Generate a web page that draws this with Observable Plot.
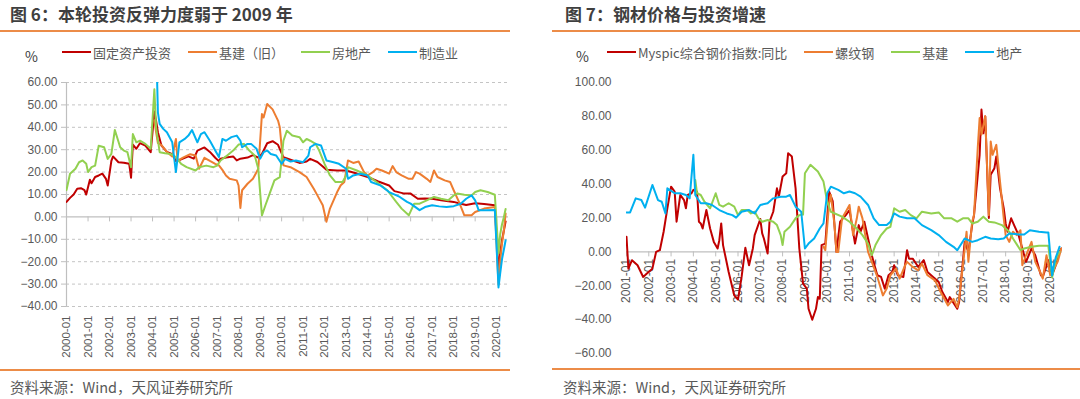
<!DOCTYPE html>
<html><head><meta charset="utf-8">
<script src="https://cdn.jsdelivr.net/npm/d3@7"></script>
<script src="https://cdn.jsdelivr.net/npm/@observablehq/plot@0.6"></script>
<style>
body{margin:0;background:#fff;width:1080px;height:399px;position:relative;overflow:hidden;font-family:"Noto Sans CJK SC","Noto Sans",sans-serif;}
.abs{position:absolute;}
.title{font-weight:bold;font-size:17px;color:#3f3f3f;top:3px;line-height:22px;white-space:nowrap}
.rule{height:1.5px;background:#ec8c48}
.legend{display:flex;align-items:center;gap:17px;font-size:13px;color:#595959;top:43px;height:18px;white-space:nowrap}
.item{display:flex;align-items:center;gap:2px}
.sw{width:29px;height:2px}
.pct{font-size:14px;color:#404040;top:47px;line-height:18px}
.cap{font-size:14.5px;color:#595959;top:377px;line-height:20px;white-space:nowrap}
</style></head><body>
<div class="abs title" style="left:10px">图 6：本轮投资反弹力度弱于 2009 年</div>
<div class="abs title" style="left:565px">图 7：钢材价格与投资增速</div>
<div class="abs rule" style="left:0;top:30px;width:510px"></div>
<div class="abs rule" style="left:552px;top:30px;width:528px"></div>
<div class="abs pct" style="left:25px">%</div>
<div class="abs pct" style="left:576px">%</div>
<div class="abs legend" id="legL" style="left:62px"></div>
<div class="abs legend" id="legR" style="left:607px"></div>
<div class="abs" id="chartL" style="left:0;top:70px"></div>
<div class="abs" id="chartR" style="left:540px;top:70px"></div>
<div class="abs rule" style="left:0;top:369px;width:510px"></div>
<div class="abs rule" style="left:552px;top:368px;width:528px"></div>
<div class="abs cap" style="left:10px">资料来源：Wind，天风证券研究所</div>
<div class="abs cap" style="left:563px">资料来源：Wind，天风证券研究所</div>
<script>
// ---------- Chart 6 data ----------
const leftSeriesNames = ["固定资产投资", "基建（旧）", "房地产", "制造业"];
const leftColors = ["#c00000", "#ed7d31", "#92d050", "#00b0f0"];
const leftYTicks = [-40, -30, -20, -10, 0, 10, 20, 30, 40, 50, 60];
const leftXTicks = ["2000-01","2001-01","2002-01","2003-01","2004-01","2005-01","2006-01","2007-01","2008-01","2009-01","2010-01","2011-01","2012-01","2013-01","2014-01","2015-01","2016-01","2017-01","2018-01","2019-01","2020-01"];

const fai = [["2000-01",6.7],["2000-03",8.5],["2000-05",10],["2000-07",12.6],["2000-09",12.8],["2000-11",11.9],["2000-12",10],
["2001-02",16.6],["2001-03",15],["2001-05",17.8],["2001-07",18.5],["2001-09",19.3],["2001-11",17],["2001-12",14],
["2002-02",25],["2002-03",27],["2002-06",24.4],["2002-09",24.2],["2002-12",23.7],["2003-01",17.5],["2003-02",32.3],["2003-04",30.4],["2003-06",32.9],["2003-09",31.8],["2003-12",28.9],
["2004-02",47],["2004-03",43],["2004-04",37.8],["2004-06",31.8],["2004-09",29],["2004-12",28],["2005-02",25],["2005-04",25.4],["2005-06",26],["2005-09",27],["2005-12",26],
["2006-02",29.6],["2006-06",31],["2006-09",29],["2006-12",26.4],["2007-02",24.9],["2007-03",26],["2007-06",26.5],["2007-10",27],["2007-12",25.2],
["2008-02",26],["2008-06",26.5],["2008-09",27.6],["2008-12",26.5],["2009-02",28.1],["2009-05",32.9],["2009-08",33.8],["2009-11",32.2],
["2010-02",26.6],["2010-06",25.5],["2010-11",24.1],["2011-03",24.7],["2011-05",25.9],["2011-09",24.5],["2011-12",22.5],["2012-02",21],["2012-08",20.7],
["2013-01",20.7],["2013-06",19.6],["2014-01",17.8],["2014-07",15.8],["2015-01",14],["2015-04",11.5],["2015-09",10.5],["2016-01",10.4],["2016-05",8.1],["2016-09",8.2],
["2017-01",8.1],["2017-06",7.4],["2018-01",6.7],["2018-05",5.9],["2018-08",5.3],["2019-01",6.1],["2019-06",5.8],["2019-12",5.2],
["2020-02",-24.5],["2020-03",-16.1],["2020-04",-10.3],["2020-05",-6.3],["2020-06",-2]];

const infraOld = [["2004-02",43],["2004-03",38],["2004-04",33],["2004-06",32],["2004-09",29],["2004-12",27],["2005-02",34.8],["2005-03",25],["2005-06",26.5],["2005-10",28],
["2006-01",27.4],["2006-03",21.5],["2006-06",26.4],["2006-09",25],["2006-12",23.7],["2007-02",23],["2007-04",21],["2007-06",18.5],["2007-08",17],["2007-12",16.3],
["2008-01",14],["2008-02",4],["2008-03",11.9],["2008-06",14.8],["2008-09",17],["2008-12",21.5],["2009-02",45.9],["2009-03",44.4],["2009-05",50.4],["2009-08",48],["2009-11",43],["2009-12",40],
["2010-02",23],["2010-06",22.2],["2010-11",20],["2011-03",17.8],["2011-07",12.6],["2011-09",9.6],["2011-12",5.2],["2012-02",-2.2],["2012-04",3.7],["2012-08",11.1],["2012-10",14.1],["2012-12",15.6],
["2013-02",25.2],["2013-05",24.1],["2013-08",24.7],["2013-11",20],["2014-01",18.5],["2014-04",20],["2014-06",21.5],["2014-09",20.7],["2015-01",19.3],["2015-03",22.7],["2015-05",20],["2015-08",18.5],["2015-12",17],
["2016-02",17],["2016-04",20],["2016-06",19.3],["2016-10",17],["2016-12",15.6],["2017-02",20.7],["2017-04",17.8],["2017-08",16.3],["2017-11",15.6],
["2018-01",11.9],["2018-04",6.7],["2018-07",0.7],["2018-11",0.7],["2019-01",2.2],["2019-06",3.7],["2019-12",4.4],
["2020-02",-30.3],["2020-03",-19.7],["2020-04",-11.8],["2020-05",-6.3],["2020-06",1.5]];

const realEstate = [["2000-01",12],["2000-03",19.3],["2000-06",21.5],["2000-08",24.4],["2000-10",25.2],["2000-12",23.7],["2001-01",20],["2001-03",22.2],["2001-05",22.9],["2001-07",31.8],["2001-10",31.1],["2001-12",25.9],
["2002-02",28.1],["2002-04",38.8],["2002-07",31.1],["2002-09",29.6],["2002-11",28.9],["2003-01",22.2],["2003-02",37],["2003-04",33.3],["2003-06",34],["2003-09",32.6],["2003-12",30.4],
["2004-02",57],["2004-03",40],["2004-05",28.9],["2004-08",28.4],["2004-11",28.1],["2005-02",26.7],["2005-05",23.7],["2005-08",22.2],["2006-01",20.7],["2006-03",22.2],["2006-07",22.9],["2006-11",22.2],
["2007-01",22.9],["2007-03",25.2],["2007-06",27],["2007-10",29.6],["2008-01",32.3],["2008-04",32.6],["2008-07",29.6],["2008-10",27.4],["2008-12",21.5],
["2009-02",0.7],["2009-04",5.2],["2009-06",9.6],["2009-09",16.3],["2009-12",17.8],["2010-02",34],["2010-04",38.5],["2010-07",36.3],["2010-11",35.6],
["2011-01",33.3],["2011-03",34.8],["2011-05",34],["2011-08",32.6],["2011-10",29.6],["2012-01",23.7],["2012-04",18.5],["2012-07",15.6],["2012-11",15.6],
["2013-01",18.5],["2013-02",22.2],["2013-07",20.7],["2014-01",18.5],["2014-06",15.6],["2014-12",11.9],["2015-05",6.7],["2015-08",3.7],["2015-12",0.7],
["2016-03",5.9],["2016-06",5.9],["2016-10",7.4],["2017-02",8.9],["2017-06",8.1],["2017-10",7.4],["2018-01",9.6],["2018-03",10.4],["2018-07",9.9],["2018-11",9.6],
["2019-01",11.1],["2019-04",11.9],["2019-08",11.1],["2019-12",9.9],["2020-02",-16.3],["2020-03",-7.7],["2020-04",-3.3],["2020-05",-0.3],["2020-06",3.5]];

const manufacturing = [["2004-03",80],["2004-04",46.7],["2004-05",41.5],["2004-07",39.3],["2004-09",37.8],["2004-12",33.3],["2005-02",20],["2005-04",33.3],["2005-07",34.8],["2005-09",36.3],["2005-11",38.8],
["2006-02",33.3],["2006-04",37],["2006-06",37.8],["2006-09",34],["2006-12",29.6],["2007-02",26.7],["2007-04",34.8],["2007-06",34],["2007-09",35.6],["2007-12",36.3],
["2008-02",34],["2008-03",31.1],["2008-06",32.6],["2008-08",32.6],["2008-11",30.4],["2009-01",26],["2009-03",28.9],["2009-05",29.6],["2009-07",28.1],["2009-10",27.4],
["2010-01",23.7],["2010-03",25.9],["2010-06",24.7],["2010-09",25.2],["2011-01",24.4],["2011-04",27.4],["2011-05",31.1],["2011-08",32.6],["2011-11",31.9],
["2012-02",25.2],["2012-06",24.4],["2012-09",23.7],["2013-01",21.5],["2013-02",17],["2013-05",18.5],["2013-09",19.3],["2014-01",18.5],["2014-03",15.6],["2014-08",14.1],
["2015-01",11.1],["2015-07",8.9],["2015-11",6.7],["2016-01",5.9],["2016-06",3],["2016-09",4.4],["2017-01",5.2],["2017-05",4.7],["2017-09",4.4],
["2018-01",4.8],["2018-05",5.9],["2018-08",8.1],["2018-11",9.6],["2019-01",7.4],["2019-03",3],["2019-07",3],["2019-12",3.1],
["2020-02",-31.5],["2020-03",-25.2],["2020-04",-18.8],["2020-05",-14.8],["2020-06",-10.4]];

// ---------- Chart 7 data ----------
const rightSeriesNames = ["Myspic综合钢价指数:同比", "螺纹钢", "基建", "地产"];
const rightColors = ["#c00000", "#ed7d31", "#92d050", "#00b0f0"];
const rightYTicks = [-60, -40, -20, 0, 20, 40, 60, 80, 100];
const rightXTicks = ["2001-01","2002-01","2003-01","2004-01","2005-01","2006-01","2007-01","2008-01","2009-01","2010-01","2011-01","2012-01","2013-01","2014-01","2015-01","2016-01","2017-01","2018-01","2019-01","2020-01"];

const myspic = [["2001-01",8.9],["2001-02",-9.9],["2001-04",-4.9],["2001-07",-7.9],["2001-10",-14.8],["2001-12",-12.8],["2002-03",-9.9],["2002-05",0],["2002-07",1],["2002-09",11.9],["2002-11",25.7],
["2003-01",38.5],["2003-03",35.6],["2003-04",17.8],["2003-06",33.6],["2003-08",30.6],["2003-09",25.7],["2003-10",33.6],["2003-12",34.6],["2004-01",36.6],["2004-03",35.6],["2004-04",17.8],["2004-05",16.8],["2004-06",13.8],["2004-08",24.7],["2004-10",13.8],["2004-12",5.9],
["2005-02",2],["2005-03",6.9],["2005-04",16.8],["2005-05",4],["2005-08",-11.9],["2005-11",-25.7],["2006-01",-28.1],["2006-03",-14.8],["2006-05",2.4],["2006-07",-7.9],["2006-09",2],["2006-10",9.9],
["2007-01",19.4],["2007-02",10.9],["2007-03",7.9],["2007-05",-1],["2007-06",17.8],["2007-08",23.7],["2007-10",37.5],["2007-11",32.6],["2008-01",44.5],["2008-03",46.4],["2008-04",58.3],["2008-06",56.3],["2008-08",37.5],["2008-10",2],["2008-12",-18.8],
["2009-02",-21.7],["2009-03",-33.6],["2009-05",-40.1],["2009-07",-33.6],["2009-08",-26.7],["2009-09",-27.7],["2009-10",4],["2009-12",4.9],["2010-02",35.6],["2010-04",30],["2010-06",0],["2010-08",17.8],["2010-11",21.7],
["2011-01",24.7],["2011-04",4.9],["2011-06",15.8],["2011-07",11.9],["2011-09",17.8],["2011-11",7.9],["2012-01",-2],["2012-03",-9.9],["2012-04",-13.8],["2012-06",-14.8],["2012-08",-21.7],["2012-10",-13.8],["2012-12",-11.9],
["2013-01",-7.9],["2013-03",-13.8],["2013-06",-14.8],["2013-08",1],["2013-09",-4],["2013-11",-4],["2014-02",-8.9],["2014-05",-4.9],["2014-07",-11.9],["2014-10",-14.8],
["2015-01",-17.8],["2015-03",-23.7],["2015-06",-29.6],["2015-07",-26.7],["2015-11",-33.6],["2015-12",-29.6],["2016-03",5.9],["2016-05",0],["2016-07",15.8],["2016-08",21.7],["2016-11",57.3],["2016-12",84],
["2017-01",70],["2017-02",80],["2017-04",20],["2017-05",45.5],["2017-07",49.4],["2017-08",56.3],["2017-10",37.5],["2017-12",25.7],["2018-01",16.8],["2018-02",11.9],["2018-04",19.8],["2018-06",14.8],["2018-08",9.9],["2018-10",2],["2018-12",-5.9],
["2019-03",2],["2019-05",-2],["2019-08",-13.8],["2019-09",-14.8],["2019-12",-4.9],["2020-02",-13.8],["2020-04",-7.9],["2020-06",0],["2020-07",2]];

const rebar = [["2009-11",3],["2009-12",1],["2010-02",28.7],["2010-03",33.6],["2010-05",15.8],["2010-06",0],["2010-07",0],["2010-09",19.8],["2010-11",23.7],
["2011-01",27.7],["2011-03",9.9],["2011-05",19.8],["2011-06",26.7],["2011-08",19.8],["2011-11",0],["2012-01",-5.9],["2012-04",-14.8],["2012-07",-25.7],["2012-09",-21.7],["2012-11",-13.8],
["2013-02",-9.9],["2013-04",-15.8],["2013-07",-7.9],["2013-08",-5.9],["2013-11",-8.9],["2014-02",-10.9],["2014-04",-6.9],["2014-07",-13.8],["2014-11",-16.8],
["2015-02",-23.7],["2015-06",-31.6],["2015-09",-27.7],["2015-11",-32.6],["2015-12",-27.7],["2016-02",-7.9],["2016-04",11.9],["2016-05",-5.9],["2016-07",17.8],["2016-08",21.7],["2016-10",61.3],["2016-11",79],["2016-12",69.2],
["2017-02",80],["2017-04",21.7],["2017-05",65.2],["2017-06",57.3],["2017-08",63.2],["2017-10",41.5],["2017-12",19.8],["2018-01",9.9],["2018-03",5.9],["2018-05",11.9],["2018-07",9.9],["2018-09",12.8],["2018-10",-7.9],["2018-12",-2],
["2019-03",5.9],["2019-05",-5.9],["2019-08",-12.8],["2019-09",-15.8],["2019-11",-2],["2020-01",-13.8],["2020-03",-9.9],["2020-05",-5.9],["2020-07",2]];

const infra = [["2004-02",42.5],["2004-03",34.6],["2004-05",33.6],["2004-07",29.6],["2004-10",25.7],["2005-01",34.6],["2005-03",27.7],["2005-05",26.7],["2005-08",28.7],["2005-11",26.7],
["2006-01",21.7],["2006-03",24.7],["2006-06",24.7],["2006-08",22.7],["2006-10",23.7],["2006-12",19.8],["2007-02",17.8],["2007-05",18.8],["2007-08",17.8],["2007-10",15.8],["2007-12",9.9],
["2008-01",4],["2008-02",11.9],["2008-05",14.8],["2008-08",19.8],["2008-10",21.7],["2008-12",22],["2009-01",46.4],["2009-04",51.4],["2009-08",47.4],["2009-11",41.5],["2010-01",29.6],["2010-03",23.7],["2010-09",20.8],
["2011-01",17.8],["2011-05",13.8],["2011-08",9.9],["2011-11",4.9],["2012-01",-2],["2012-03",4],["2012-06",9.9],["2012-09",13.8],["2012-11",14.8],
["2013-01",25.7],["2013-04",23.7],["2013-07",24.7],["2013-10",21.7],["2014-01",19.8],["2014-04",23.7],["2014-09",22.7],["2015-01",23.3],["2015-04",19.8],["2015-08",19.8],["2015-11",17.8],
["2016-02",19.8],["2016-05",19.8],["2016-07",16.8],["2016-10",17.8],["2017-01",20.8],["2017-04",17.8],["2017-07",17.4],["2017-11",15.8],["2018-03",11.9],["2018-05",7.9],["2018-09",1],["2018-11",2],
["2019-03",3],["2019-07",3.6],["2019-11",3.6],["2019-12",3.6],["2020-02",-15],["2020-03",-10],["2020-04",-5],["2020-05",-2],["2020-06",0]];

const property = [["2001-01",23.3],["2001-03",23.3],["2001-06",31.6],["2001-09",30.6],["2001-11",26.1],["2002-03",39.5],["2002-06",30.6],["2002-08",29.6],["2002-10",22.7],["2002-11",37.5],
["2003-03",34.6],["2003-06",34.6],["2003-09",33.6],["2003-11",31.6],["2004-01",57.3],["2004-02",33.6],["2004-05",28.7],["2004-08",28.7],["2004-11",27.7],
["2005-03",24.7],["2005-07",22.7],["2005-10",21.7],["2005-12",20.2],["2006-03",23.7],["2006-07",24.7],["2006-10",22.7],["2007-01",27.7],["2007-05",28.7],["2007-08",31.6],["2007-12",32.6],
["2008-03",32.6],["2008-05",33.6],["2008-08",26.7],["2008-11",23.7],["2009-01",2],["2009-03",4.9],["2009-06",7.9],["2009-09",13.8],["2009-11",16.8],["2010-01",34.6],["2010-03",38.5],["2010-07",36.6],["2010-10",34.6],
["2011-01",35.6],["2011-04",34.6],["2011-07",32.6],["2011-11",27.7],["2012-02",19.8],["2012-05",15.8],["2012-09",15.8],["2012-11",17.8],
["2013-01",22.7],["2013-04",20.8],["2013-08",19.8],["2013-12",19.8],["2014-04",15.8],["2014-09",12.8],["2015-01",9.9],["2015-05",5.9],["2015-09",3],["2015-11",1],
["2016-03",7.9],["2016-07",5.9],["2016-10",6.9],["2017-02",8.9],["2017-05",7.9],["2017-09",7.5],["2017-12",7.9],["2018-03",10.9],["2018-08",10.3],["2018-11",10.3],
["2019-02",12.8],["2019-07",11.9],["2019-11",11.5],["2019-12",11.5],["2020-02",-14],["2020-03",-7.7],["2020-04",-3.3],["2020-05",-0.3],["2020-06",3]];

// ---------- build ----------
const parse = d3.utcParse("%Y-%m");
const fmt2 = d3.format(".2f");
const axisGray = "#bfbfbf";
const labelGray = "#595959";
const fontFamily = '"Liberation Sans", Arial, sans-serif';

function legend(id, names, colors) {
  const el = document.getElementById(id);
  names.forEach((n, i) => {
    const it = document.createElement("div");
    it.className = "item";
    it.innerHTML = `<div class="sw" style="background:${colors[i]}"></div><span>${n}</span>`;
    el.appendChild(it);
  });
}
legend("legL", leftSeriesNames, leftColors);
legend("legR", rightSeriesNames, rightColors);

function lines(seriesList, colors) {
  return seriesList.map((s, i) => Plot.line(s, {
    x: d => parse(d[0]), y: d => d[1], stroke: colors[i], strokeWidth: 2, clip: true
  }));
}

const leftStart = parse("2000-01");
const leftEnd = new Date(Date.UTC(2020, 6, 20));
const leftTickDates = leftXTicks.map(parse);
const chartL = Plot.plot({
  width: 520, height: 290,
  marginLeft: 66, marginRight: 12, marginTop: 12, marginBottom: 54,
  style: {fontFamily, fontSize: "12px", color: labelGray, background: "transparent"},
  x: {type: "utc", domain: [leftStart, leftEnd], axis: null},
  y: {domain: [leftYTicks[0], leftYTicks[leftYTicks.length - 1]]},
  marks: [
    Plot.gridY(leftYTicks.filter(v => v !== 0), {stroke: "#c4c4c4", strokeOpacity: 1, strokeDasharray: "3,3"}),
    Plot.ruleY([0], {stroke: axisGray, strokeWidth: 1.2}),
    Plot.ruleX([leftStart], {stroke: axisGray, strokeWidth: 1.2}),
    Plot.axisY(leftYTicks, {tickFormat: fmt2, tickSize: 5, tickPadding: 4, stroke: axisGray, fill: labelGray, label: null, fontSize: 12}),
    Plot.ruleX(leftTickDates, {x: d => d, y1: 0, y2: 0, insetBottom: -5, stroke: axisGray}),
    Plot.text(leftXTicks, {x: d => parse(d), y: leftYTicks[0], text: d => d, rotate: -90, textAnchor: "end", dy: 9, fill: labelGray, fontSize: 11.5}),
    ...lines([fai, infraOld, realEstate, manufacturing], leftColors)
  ]
});
document.getElementById("chartL").appendChild(chartL);

const rightStart = parse("2001-01");
const rightEnd = new Date(Date.UTC(2020, 6, 20));
const rightTickDates = rightXTicks.map(parse);
const chartR = Plot.plot({
  width: 540, height: 290,
  marginLeft: 86, marginRight: 18, marginTop: 12, marginBottom: 7,
  style: {fontFamily, fontSize: "12px", color: labelGray, background: "transparent"},
  x: {type: "utc", domain: [rightStart, rightEnd], axis: null},
  y: {domain: [rightYTicks[0], rightYTicks[rightYTicks.length - 1]]},
  marks: [
    Plot.ruleY([0], {stroke: axisGray, strokeWidth: 1.2}),
    Plot.axisY(rightYTicks, {tickFormat: fmt2, tickSize: 0, tickPadding: 15, fill: labelGray, label: null, fontSize: 12}),
    Plot.ruleX(rightTickDates, {x: d => d, y1: 0, y2: 0, insetBottom: -5, stroke: axisGray}),
    Plot.text(rightXTicks, {x: d => parse(d), y: 0, text: d => d, rotate: -90, textAnchor: "end", dy: 7, fill: labelGray, fontSize: 12}),
    ...lines([myspic, rebar, infra, property], rightColors)
  ]
});
document.getElementById("chartR").appendChild(chartR);
</script>
</body></html>
